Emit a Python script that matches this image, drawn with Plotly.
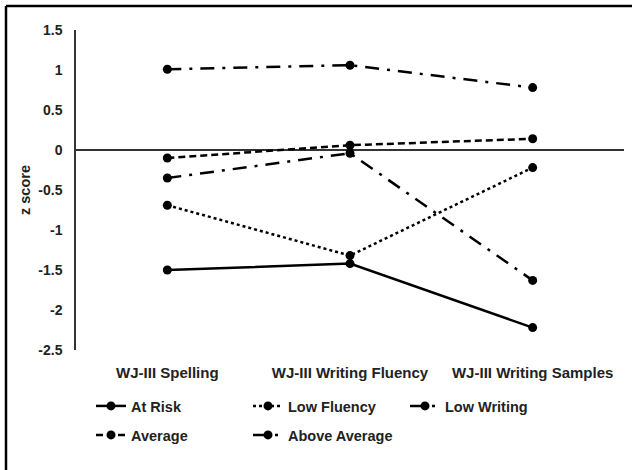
import plotly.graph_objects as go

categories = ["WJ-III Spelling", "WJ-III Writing Fluency", "WJ-III Writing Samples"]
at_risk = [-1.50, -1.42, -2.22]
low_fluency = [-0.69, -1.32, -0.22]
low_writing = [-0.35, -0.04, -1.63]
average = [-0.10, 0.06, 0.14]
above_average = [1.01, 1.06, 0.78]
y_ticks = [1.5, 1, 0.5, 0, -0.5, -1, -1.5, -2, -2.5]
y_tick_labels = ["1.5", "1", "0.5", "0", "-0.5", "-1", "-1.5", "-2", "-2.5"]

FONT = "Liberation Sans, Arial, sans-serif"
L, R, T, B = 76, 8, 30, 120
W, H = 632, 470
pw, ph = W - L - R, H - T - B

series = [
    ("At Risk", at_risk, "solid", "legend"),
    ("Low Fluency", low_fluency, "dot", "legend"),
    ("Low Writing", low_writing, "14px,8px,3px,8px", "legend"),
    ("Average", average, "7px,4px", "legend2"),
    ("Above Average", above_average, "14px,8px,3px,8px", "legend2"),
]

fig = go.Figure()
for name, vals, dash, lg in series:
    fig.add_trace(go.Scatter(
        x=categories, y=vals, name=name, mode="lines+markers",
        line=dict(color="black", width=2.5, dash=dash),
        marker=dict(color="black", size=9, symbol="circle"),
        legend=lg,
    ))

def px_x(p):
    return (p - L) / pw

def px_y(p):
    return 1 - (p - T) / ph

fig.add_shape(type="line", xref="paper", yref="paper",
              x0=px_x(6), x1=px_x(640), y0=px_y(6), y1=px_y(6),
              line=dict(color="black", width=2.5))
fig.add_shape(type="line", xref="paper", yref="paper",
              x0=px_x(6), x1=px_x(6), y0=px_y(6), y1=px_y(480),
              line=dict(color="black", width=2.5))

xtick_font = dict(family=FONT, size=15, color="#222", weight="bold")
ytick_font = dict(family=FONT, size=14, color="#222", weight="bold")
legend_font = dict(family=FONT, size=14.5, color="#222", weight="bold")
fig.update_layout(
    width=W, height=H,
    margin=dict(l=L, r=R, t=T, b=B),
    paper_bgcolor="white", plot_bgcolor="white",
    font=dict(family=FONT, size=14, color="#222", weight="bold"),
    xaxis=dict(type="category", range=[-0.5, 2.5], showgrid=False, showline=False,
               zeroline=False, ticks="", tickfont=xtick_font,
               ticklabelstandoff=12),
    yaxis=dict(range=[-2.5, 1.5], tickvals=y_ticks, ticktext=y_tick_labels,
               showgrid=False, showline=True, linecolor="#333", linewidth=1.5,
               zeroline=True, zerolinecolor="#333", zerolinewidth=1.5,
               ticks="", ticklabelstandoff=9,
               tickfont=ytick_font,
               title=dict(text="z score", standoff=4,
                          font=dict(family=FONT, size=14.5, color="#222", weight="bold"))),
    legend=dict(orientation="h", x=px_x(91), y=px_y(390), xanchor="left", yanchor="top",
                entrywidth=112, entrywidthmode="pixels", font=legend_font,
                bgcolor="rgba(0,0,0,0)", itemwidth=30),
    legend2=dict(orientation="h", x=px_x(91), y=px_y(419), xanchor="left", yanchor="top",
                 entrywidth=112, entrywidthmode="pixels", font=legend_font,
                 bgcolor="rgba(0,0,0,0)", itemwidth=30),
)

fig.write_html("out.html", config={"displayModeBar": False},
               post_script="document.body.style.margin='0';")
